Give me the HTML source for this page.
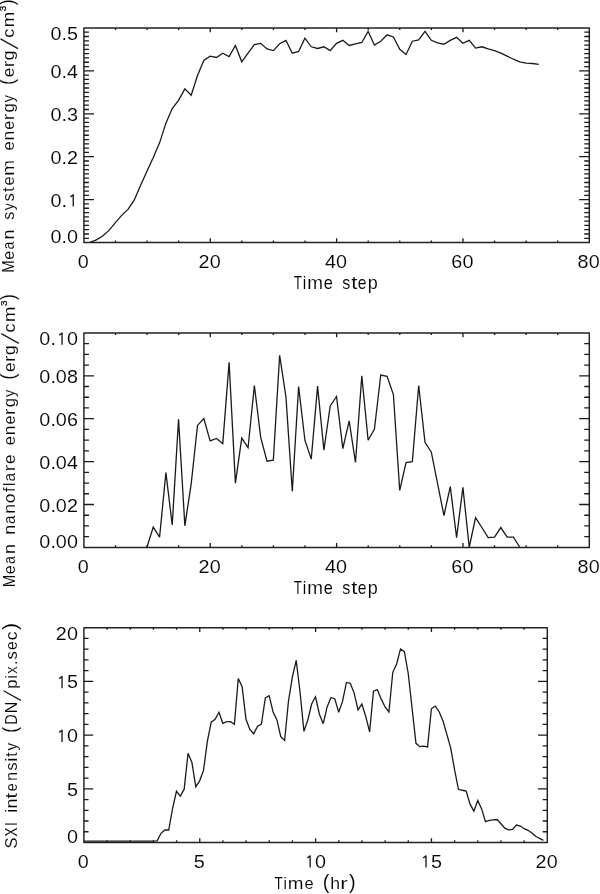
<!DOCTYPE html>
<html><head><meta charset="utf-8"><style>
html,body{margin:0;padding:0;background:#fff;}
body{width:600px;height:894px;overflow:hidden;}
svg{display:block;}
text{font-family:"Liberation Sans",sans-serif;white-space:pre;stroke:#fff;stroke-width:0.006px;paint-order:normal;}
svg{will-change:transform;}
</style></head><body>
<svg width="600" height="894" viewBox="0 0 600 894">
<rect width="600" height="894" fill="#fff"/>
<g font-family="Liberation Sans, sans-serif" fill="#000">
<rect x="83.9" y="27.9" width="505.40" height="214.70" stroke="#222" stroke-width="1.45" fill="none" stroke-linejoin="round"/>
<path d="M115.49 242.60v-2.15M115.49 27.90v2.15M147.07 242.60v-2.15M147.07 27.90v2.15M178.66 242.60v-2.15M178.66 27.90v2.15M210.25 242.60v-4.29M210.25 27.90v4.29M241.84 242.60v-2.15M241.84 27.90v2.15M273.42 242.60v-2.15M273.42 27.90v2.15M305.01 242.60v-2.15M305.01 27.90v2.15M336.60 242.60v-4.29M336.60 27.90v4.29M368.19 242.60v-2.15M368.19 27.90v2.15M399.77 242.60v-2.15M399.77 27.90v2.15M431.36 242.60v-2.15M431.36 27.90v2.15M462.95 242.60v-4.29M462.95 27.90v4.29M494.54 242.60v-2.15M494.54 27.90v2.15M526.12 242.60v-2.15M526.12 27.90v2.15M557.71 242.60v-2.15M557.71 27.90v2.15M83.90 238.31h5.05M589.30 238.31h-5.05M83.90 234.01h5.05M589.30 234.01h-5.05M83.90 229.72h5.05M589.30 229.72h-5.05M83.90 225.42h5.05M589.30 225.42h-5.05M83.90 221.13h5.05M589.30 221.13h-5.05M83.90 216.84h5.05M589.30 216.84h-5.05M83.90 212.54h5.05M589.30 212.54h-5.05M83.90 208.25h5.05M589.30 208.25h-5.05M83.90 203.95h5.05M589.30 203.95h-5.05M83.90 199.66h10.11M589.30 199.66h-10.11M83.90 195.37h5.05M589.30 195.37h-5.05M83.90 191.07h5.05M589.30 191.07h-5.05M83.90 186.78h5.05M589.30 186.78h-5.05M83.90 182.48h5.05M589.30 182.48h-5.05M83.90 178.19h5.05M589.30 178.19h-5.05M83.90 173.90h5.05M589.30 173.90h-5.05M83.90 169.60h5.05M589.30 169.60h-5.05M83.90 165.31h5.05M589.30 165.31h-5.05M83.90 161.01h5.05M589.30 161.01h-5.05M83.90 156.72h10.11M589.30 156.72h-10.11M83.90 152.43h5.05M589.30 152.43h-5.05M83.90 148.13h5.05M589.30 148.13h-5.05M83.90 143.84h5.05M589.30 143.84h-5.05M83.90 139.54h5.05M589.30 139.54h-5.05M83.90 135.25h5.05M589.30 135.25h-5.05M83.90 130.96h5.05M589.30 130.96h-5.05M83.90 126.66h5.05M589.30 126.66h-5.05M83.90 122.37h5.05M589.30 122.37h-5.05M83.90 118.07h5.05M589.30 118.07h-5.05M83.90 113.78h10.11M589.30 113.78h-10.11M83.90 109.49h5.05M589.30 109.49h-5.05M83.90 105.19h5.05M589.30 105.19h-5.05M83.90 100.90h5.05M589.30 100.90h-5.05M83.90 96.60h5.05M589.30 96.60h-5.05M83.90 92.31h5.05M589.30 92.31h-5.05M83.90 88.02h5.05M589.30 88.02h-5.05M83.90 83.72h5.05M589.30 83.72h-5.05M83.90 79.43h5.05M589.30 79.43h-5.05M83.90 75.13h5.05M589.30 75.13h-5.05M83.90 70.84h10.11M589.30 70.84h-10.11M83.90 66.55h5.05M589.30 66.55h-5.05M83.90 62.25h5.05M589.30 62.25h-5.05M83.90 57.96h5.05M589.30 57.96h-5.05M83.90 53.66h5.05M589.30 53.66h-5.05M83.90 49.37h5.05M589.30 49.37h-5.05M83.90 45.08h5.05M589.30 45.08h-5.05M83.90 40.78h5.05M589.30 40.78h-5.05M83.90 36.49h5.05M589.30 36.49h-5.05M83.90 32.19h5.05M589.30 32.19h-5.05" stroke="#1a1a1a" stroke-width="1.3" fill="none"/>
<rect x="83.9" y="332.9" width="505.40" height="214.50" stroke="#222" stroke-width="1.45" fill="none" stroke-linejoin="round"/>
<path d="M115.49 547.40v-2.15M115.49 332.90v2.15M147.07 547.40v-2.15M147.07 332.90v2.15M178.66 547.40v-2.15M178.66 332.90v2.15M210.25 547.40v-4.29M210.25 332.90v4.29M241.84 547.40v-2.15M241.84 332.90v2.15M273.42 547.40v-2.15M273.42 332.90v2.15M305.01 547.40v-2.15M305.01 332.90v2.15M336.60 547.40v-4.29M336.60 332.90v4.29M368.19 547.40v-2.15M368.19 332.90v2.15M399.77 547.40v-2.15M399.77 332.90v2.15M431.36 547.40v-2.15M431.36 332.90v2.15M462.95 547.40v-4.29M462.95 332.90v4.29M494.54 547.40v-2.15M494.54 332.90v2.15M526.12 547.40v-2.15M526.12 332.90v2.15M557.71 547.40v-2.15M557.71 332.90v2.15M83.90 536.67h5.05M589.30 536.67h-5.05M83.90 525.95h5.05M589.30 525.95h-5.05M83.90 515.23h5.05M589.30 515.23h-5.05M83.90 504.50h10.11M589.30 504.50h-10.11M83.90 493.77h5.05M589.30 493.77h-5.05M83.90 483.05h5.05M589.30 483.05h-5.05M83.90 472.32h5.05M589.30 472.32h-5.05M83.90 461.60h10.11M589.30 461.60h-10.11M83.90 450.88h5.05M589.30 450.88h-5.05M83.90 440.15h5.05M589.30 440.15h-5.05M83.90 429.43h5.05M589.30 429.43h-5.05M83.90 418.70h10.11M589.30 418.70h-10.11M83.90 407.97h5.05M589.30 407.97h-5.05M83.90 397.25h5.05M589.30 397.25h-5.05M83.90 386.52h5.05M589.30 386.52h-5.05M83.90 375.80h10.11M589.30 375.80h-10.11M83.90 365.07h5.05M589.30 365.07h-5.05M83.90 354.35h5.05M589.30 354.35h-5.05M83.90 343.62h5.05M589.30 343.62h-5.05" stroke="#1a1a1a" stroke-width="1.3" fill="none"/>
<rect x="83.9" y="627.7" width="463.40" height="214.80" stroke="#222" stroke-width="1.45" fill="none" stroke-linejoin="round"/>
<path d="M107.07 842.50v-2.15M107.07 627.70v2.15M130.24 842.50v-2.15M130.24 627.70v2.15M153.41 842.50v-2.15M153.41 627.70v2.15M176.58 842.50v-2.15M176.58 627.70v2.15M199.75 842.50v-4.30M199.75 627.70v4.30M222.92 842.50v-2.15M222.92 627.70v2.15M246.09 842.50v-2.15M246.09 627.70v2.15M269.26 842.50v-2.15M269.26 627.70v2.15M292.43 842.50v-2.15M292.43 627.70v2.15M315.60 842.50v-4.30M315.60 627.70v4.30M338.77 842.50v-2.15M338.77 627.70v2.15M361.94 842.50v-2.15M361.94 627.70v2.15M385.11 842.50v-2.15M385.11 627.70v2.15M408.28 842.50v-2.15M408.28 627.70v2.15M431.45 842.50v-4.30M431.45 627.70v4.30M454.62 842.50v-2.15M454.62 627.70v2.15M477.79 842.50v-2.15M477.79 627.70v2.15M500.96 842.50v-2.15M500.96 627.70v2.15M524.13 842.50v-2.15M524.13 627.70v2.15M83.90 831.76h4.63M547.30 831.76h-4.63M83.90 821.02h4.63M547.30 821.02h-4.63M83.90 810.28h4.63M547.30 810.28h-4.63M83.90 799.54h4.63M547.30 799.54h-4.63M83.90 788.80h9.27M547.30 788.80h-9.27M83.90 778.06h4.63M547.30 778.06h-4.63M83.90 767.32h4.63M547.30 767.32h-4.63M83.90 756.58h4.63M547.30 756.58h-4.63M83.90 745.84h4.63M547.30 745.84h-4.63M83.90 735.10h9.27M547.30 735.10h-9.27M83.90 724.36h4.63M547.30 724.36h-4.63M83.90 713.62h4.63M547.30 713.62h-4.63M83.90 702.88h4.63M547.30 702.88h-4.63M83.90 692.14h4.63M547.30 692.14h-4.63M83.90 681.40h9.27M547.30 681.40h-9.27M83.90 670.66h4.63M547.30 670.66h-4.63M83.90 659.92h4.63M547.30 659.92h-4.63M83.90 649.18h4.63M547.30 649.18h-4.63M83.90 638.44h4.63M547.30 638.44h-4.63" stroke="#1a1a1a" stroke-width="1.3" fill="none"/>
<polyline points="90.07,242.40 96.39,239.83 102.71,235.97 109.03,230.39 115.35,222.67 121.67,215.37 127.99,209.37 134.31,199.93 140.62,185.34 146.94,171.19 153.26,157.46 159.58,142.87 165.90,123.14 172.22,108.55 178.54,100.40 184.86,88.82 191.18,95.25 197.50,75.52 203.82,60.50 210.14,56.21 216.46,57.50 222.78,53.21 229.10,56.64 235.41,45.49 241.73,61.79 248.05,53.21 254.37,44.63 260.69,43.34 267.01,48.92 273.33,50.64 279.65,43.77 285.97,40.34 292.29,53.21 298.61,51.50 304.93,38.20 311.25,46.78 317.57,48.49 323.89,46.78 330.21,50.64 336.52,43.34 342.84,40.34 349.16,45.49 355.48,43.77 361.80,42.49 368.12,31.33 374.44,45.06 380.76,41.20 387.08,34.76 393.40,36.91 399.72,49.35 406.04,54.50 412.36,41.20 418.68,39.91 425.00,31.33 431.32,40.34 437.63,42.91 443.95,44.20 450.27,40.34 456.59,37.34 462.91,43.34 469.23,40.34 475.55,48.06 481.87,46.78 488.19,48.92 494.51,50.64 500.83,53.21 507.15,56.21 513.47,59.22 519.79,61.79 526.11,63.08 532.43,63.51 538.74,64.37" stroke="#1a1a1a" stroke-width="1.3" fill="none" stroke-linejoin="miter" stroke-miterlimit="3"/>
<polyline points="146.94,547.25 153.26,527.09 159.58,537.17 165.90,472.60 172.22,524.94 178.54,419.41 184.86,525.80 191.18,483.97 197.50,425.41 203.82,418.55 210.14,440.86 216.46,438.50 222.78,443.65 229.10,362.35 235.41,483.11 241.73,438.07 248.05,447.72 254.37,385.52 260.69,437.43 267.01,461.24 273.33,460.16 279.65,355.27 285.97,397.10 292.29,491.27 298.61,386.59 304.93,440.21 311.25,459.09 317.57,386.16 323.89,450.08 330.21,405.89 336.52,396.46 342.84,448.58 349.16,420.91 355.48,462.52 361.80,375.86 368.12,440.21 374.44,429.06 380.76,375.01 387.08,376.29 393.40,394.53 399.72,490.41 406.04,462.52 412.36,461.66 418.68,385.52 425.00,442.36 431.32,452.23 437.63,483.97 443.95,515.50 450.27,486.55 456.59,537.60 462.91,487.40 469.23,547.25 475.55,517.65 481.87,527.52 488.19,537.60 494.51,537.17 500.83,527.52 507.15,537.17 513.47,537.17 519.79,547.25" stroke="#1a1a1a" stroke-width="1.3" fill="none" stroke-linejoin="miter" stroke-miterlimit="3"/>
<polyline points="83.75,841.14 87.61,841.14 91.48,841.14 95.34,841.14 99.20,841.14 103.06,841.14 106.93,841.14 110.79,841.14 114.65,841.14 118.52,841.14 122.38,841.14 126.24,841.14 130.10,841.14 133.97,841.14 137.83,841.14 141.69,841.14 145.56,841.14 149.42,841.14 153.28,841.14 157.15,840.82 161.01,833.32 164.87,830.00 168.73,830.00 172.60,808.26 176.46,791.33 180.32,796.15 184.19,789.19 188.05,753.30 191.91,762.51 195.77,786.72 199.64,780.83 203.50,770.44 207.36,741.30 211.23,722.23 215.09,719.34 218.95,712.27 222.81,723.31 226.68,721.70 230.54,721.70 234.40,724.38 238.27,678.53 242.13,686.78 245.99,719.34 249.86,729.52 253.72,733.80 257.58,726.30 261.44,724.16 265.31,697.92 269.17,695.67 273.03,711.74 276.90,719.88 280.76,736.70 284.62,740.45 288.48,701.13 292.35,677.13 296.21,660.42 300.07,692.24 303.94,731.34 307.80,719.98 311.66,704.02 315.52,696.74 319.39,714.20 323.25,723.63 327.11,706.92 330.98,697.49 334.84,698.88 338.70,712.27 342.57,701.13 346.43,682.49 350.29,683.35 354.15,693.10 358.02,709.81 361.88,704.02 365.74,716.45 369.61,731.88 373.47,691.17 377.33,689.67 381.19,698.88 385.06,706.92 388.92,711.95 392.78,672.31 396.65,663.96 400.51,648.96 404.37,651.64 408.23,673.49 412.10,708.42 415.96,743.34 419.82,746.66 423.69,746.12 427.55,746.87 431.41,708.74 435.28,706.06 439.14,711.74 443.00,720.95 446.86,734.34 450.73,748.05 454.59,769.80 458.45,789.29 462.32,790.26 466.18,791.01 470.04,804.18 473.90,811.15 477.77,800.44 481.63,808.90 485.49,821.65 489.36,820.36 493.22,819.83 497.08,819.50 500.94,823.79 504.81,828.18 508.67,829.79 512.53,829.47 516.40,825.07 520.26,826.04 524.12,828.72 527.99,830.32 531.85,833.00 535.71,836.32 539.57,838.46 543.44,840.29" stroke="#1a1a1a" stroke-width="1.3" fill="none" stroke-linejoin="miter" stroke-miterlimit="3"/>
<text transform="matrix(19.8 0 0 17.9 50.556 243.030)" font-size="1">0</text>
<text transform="matrix(19.8 0 0 17.9 61.578 243.030)" font-size="1">.</text>
<text transform="matrix(19.8 0 0 17.9 66.956 243.030)" font-size="1">0</text>
<text transform="matrix(19.8 0 0 17.9 50.556 206.740)" font-size="1">0</text>
<text transform="matrix(19.8 0 0 17.9 61.578 206.740)" font-size="1">.</text>
<path d="M73.25 206.51V194.76L70.40 196.91" stroke="#1a1a1a" stroke-width="1.35" fill="none" stroke-linejoin="round"/>
<text transform="matrix(19.8 0 0 17.9 50.556 163.800)" font-size="1">0</text>
<text transform="matrix(19.8 0 0 17.9 61.578 163.800)" font-size="1">.</text>
<text transform="matrix(19.8 0 0 17.9 67.005 163.800)" font-size="1">2</text>
<text transform="matrix(19.8 0 0 17.9 50.556 120.860)" font-size="1">0</text>
<text transform="matrix(19.8 0 0 17.9 61.578 120.860)" font-size="1">.</text>
<text transform="matrix(19.8 0 0 17.9 67.005 120.860)" font-size="1">3</text>
<text transform="matrix(19.8 0 0 17.9 50.556 77.920)" font-size="1">0</text>
<text transform="matrix(19.8 0 0 17.9 61.578 77.920)" font-size="1">.</text>
<text transform="matrix(19.8 0 0 17.9 67.105 77.920)" font-size="1">4</text>
<text transform="matrix(19.8 0 0 17.9 50.556 39.930)" font-size="1">0</text>
<text transform="matrix(19.8 0 0 17.9 61.578 39.930)" font-size="1">.</text>
<text transform="matrix(19.8 0 0 17.9 67.005 39.930)" font-size="1">5</text>
<text transform="matrix(19.8 0 0 17.9 39.356 547.830)" font-size="1">0</text>
<text transform="matrix(19.8 0 0 17.9 50.377 547.830)" font-size="1">.</text>
<text transform="matrix(19.8 0 0 17.9 55.756 547.830)" font-size="1">0</text>
<text transform="matrix(19.8 0 0 17.9 66.956 547.830)" font-size="1">0</text>
<text transform="matrix(19.8 0 0 17.9 39.356 511.580)" font-size="1">0</text>
<text transform="matrix(19.8 0 0 17.9 50.377 511.580)" font-size="1">.</text>
<text transform="matrix(19.8 0 0 17.9 55.756 511.580)" font-size="1">0</text>
<text transform="matrix(19.8 0 0 17.9 67.005 511.580)" font-size="1">2</text>
<text transform="matrix(19.8 0 0 17.9 39.356 468.680)" font-size="1">0</text>
<text transform="matrix(19.8 0 0 17.9 50.377 468.680)" font-size="1">.</text>
<text transform="matrix(19.8 0 0 17.9 55.756 468.680)" font-size="1">0</text>
<text transform="matrix(19.8 0 0 17.9 67.105 468.680)" font-size="1">4</text>
<text transform="matrix(19.8 0 0 17.9 39.356 425.780)" font-size="1">0</text>
<text transform="matrix(19.8 0 0 17.9 50.377 425.780)" font-size="1">.</text>
<text transform="matrix(19.8 0 0 17.9 55.756 425.780)" font-size="1">0</text>
<text transform="matrix(19.8 0 0 17.9 66.906 425.780)" font-size="1">6</text>
<text transform="matrix(19.8 0 0 17.9 39.356 382.880)" font-size="1">0</text>
<text transform="matrix(19.8 0 0 17.9 50.377 382.880)" font-size="1">.</text>
<text transform="matrix(19.8 0 0 17.9 55.756 382.880)" font-size="1">0</text>
<text transform="matrix(19.8 0 0 17.9 66.956 382.880)" font-size="1">8</text>
<text transform="matrix(19.8 0 0 17.9 39.356 344.930)" font-size="1">0</text>
<text transform="matrix(19.8 0 0 17.9 50.377 344.930)" font-size="1">.</text>
<path d="M62.05 344.70V332.95L59.20 335.10" stroke="#1a1a1a" stroke-width="1.35" fill="none" stroke-linejoin="round"/>
<text transform="matrix(19.8 0 0 17.9 66.956 344.930)" font-size="1">0</text>
<text transform="matrix(19.8 0 0 17.9 66.956 842.930)" font-size="1">0</text>
<text transform="matrix(19.8 0 0 17.9 67.005 795.880)" font-size="1">5</text>
<path d="M62.05 741.95V730.20L59.20 732.35" stroke="#1a1a1a" stroke-width="1.35" fill="none" stroke-linejoin="round"/>
<text transform="matrix(19.8 0 0 17.9 66.956 742.180)" font-size="1">0</text>
<path d="M62.05 688.25V676.50L59.20 678.65" stroke="#1a1a1a" stroke-width="1.35" fill="none" stroke-linejoin="round"/>
<text transform="matrix(19.8 0 0 17.9 67.005 688.480)" font-size="1">5</text>
<text transform="matrix(19.8 0 0 17.9 55.805 639.730)" font-size="1">2</text>
<text transform="matrix(19.8 0 0 17.9 66.956 639.730)" font-size="1">0</text>
<text transform="matrix(19.8 0 0 17.9 77.756 267.930)" font-size="1">0</text>
<text transform="matrix(19.8 0 0 17.9 198.556 267.930)" font-size="1">2</text>
<text transform="matrix(19.8 0 0 17.9 209.706 267.930)" font-size="1">0</text>
<text transform="matrix(19.8 0 0 17.9 325.005 267.930)" font-size="1">4</text>
<text transform="matrix(19.8 0 0 17.9 336.056 267.930)" font-size="1">0</text>
<text transform="matrix(19.8 0 0 17.9 451.156 267.930)" font-size="1">6</text>
<text transform="matrix(19.8 0 0 17.9 462.406 267.930)" font-size="1">0</text>
<text transform="matrix(19.8 0 0 17.9 577.556 267.930)" font-size="1">8</text>
<text transform="matrix(19.8 0 0 17.9 588.756 267.930)" font-size="1">0</text>
<text transform="matrix(19.8 0 0 17.9 77.756 572.780)" font-size="1">0</text>
<text transform="matrix(19.8 0 0 17.9 198.556 572.780)" font-size="1">2</text>
<text transform="matrix(19.8 0 0 17.9 209.706 572.780)" font-size="1">0</text>
<text transform="matrix(19.8 0 0 17.9 325.005 572.780)" font-size="1">4</text>
<text transform="matrix(19.8 0 0 17.9 336.056 572.780)" font-size="1">0</text>
<text transform="matrix(19.8 0 0 17.9 451.156 572.780)" font-size="1">6</text>
<text transform="matrix(19.8 0 0 17.9 462.406 572.780)" font-size="1">0</text>
<text transform="matrix(19.8 0 0 17.9 577.556 572.780)" font-size="1">8</text>
<text transform="matrix(19.8 0 0 17.9 588.756 572.780)" font-size="1">0</text>
<text transform="matrix(19.8 0 0 17.9 77.756 867.830)" font-size="1">0</text>
<text transform="matrix(19.8 0 0 17.9 193.656 867.830)" font-size="1">5</text>
<path d="M310.15 867.60V855.85L307.30 858.00" stroke="#1a1a1a" stroke-width="1.35" fill="none" stroke-linejoin="round"/>
<text transform="matrix(19.8 0 0 17.9 315.056 867.830)" font-size="1">0</text>
<path d="M426.00 867.60V855.85L423.15 858.00" stroke="#1a1a1a" stroke-width="1.35" fill="none" stroke-linejoin="round"/>
<text transform="matrix(19.8 0 0 17.9 430.955 867.830)" font-size="1">5</text>
<text transform="matrix(19.8 0 0 17.9 535.605 867.830)" font-size="1">2</text>
<text transform="matrix(19.8 0 0 17.9 546.756 867.830)" font-size="1">0</text>
<text transform="matrix(13.5088 0 0 17.6812 293.780 289.100)" font-size="1">T</text>
<text transform="matrix(15.5556 0 0 17.6812 302.789 289.100)" font-size="1">i</text>
<text transform="matrix(18.8652 0 0 17.6812 307.174 289.100)" font-size="1">m</text>
<text transform="matrix(16.3830 0 0 17.6812 323.845 289.100)" font-size="1">e</text>
<text transform="matrix(16.0920 0 0 17.6812 342.317 289.100)" font-size="1">s</text>
<text transform="matrix(21.9608 0 0 17.6812 351.171 289.100)" font-size="1">t</text>
<text transform="matrix(15.7447 0 0 17.6812 357.870 289.100)" font-size="1">e</text>
<text transform="matrix(18.0000 0 0 17.6812 367.830 289.100)" font-size="1">p</text>
<text transform="matrix(13.5088 0 0 17.6812 293.780 593.950)" font-size="1">T</text>
<text transform="matrix(15.5556 0 0 17.6812 302.789 593.950)" font-size="1">i</text>
<text transform="matrix(18.8652 0 0 17.6812 307.174 593.950)" font-size="1">m</text>
<text transform="matrix(16.3830 0 0 17.6812 323.845 593.950)" font-size="1">e</text>
<text transform="matrix(16.0920 0 0 17.6812 342.317 593.950)" font-size="1">s</text>
<text transform="matrix(21.9608 0 0 17.6812 351.171 593.950)" font-size="1">t</text>
<text transform="matrix(15.7447 0 0 17.6812 357.870 593.950)" font-size="1">e</text>
<text transform="matrix(18.0000 0 0 17.6812 367.830 593.950)" font-size="1">p</text>
<text transform="matrix(13.5088 0 0 17.3913 274.480 888.800)" font-size="1">T</text>
<text transform="matrix(15.5556 0 0 17.3913 283.489 888.800)" font-size="1">i</text>
<text transform="matrix(18.8652 0 0 17.3913 287.874 888.800)" font-size="1">m</text>
<text transform="matrix(16.3830 0 0 17.3913 304.545 888.800)" font-size="1">e</text>
<text transform="matrix(20.0000 0 0 20.0000 322.700 889.200)" font-size="1">(</text>
<text transform="matrix(17.6190 0 0 17.3913 330.367 888.800)" font-size="1">h</text>
<text transform="matrix(22.4000 0 0 17.3913 340.344 888.800)" font-size="1">r</text>
<text transform="matrix(20.0000 0 0 20.0000 349.000 889.200)" font-size="1">)</text>
<text transform="matrix(0 -14.9254 16.9565 0 14.000 272.694)" font-size="1">M</text>
<text transform="matrix(0 -16.1702 16.9565 0 14.000 259.647)" font-size="1">e</text>
<text transform="matrix(0 -14.1748 16.9565 0 14.000 249.467)" font-size="1">a</text>
<text transform="matrix(0 -17.8824 16.9565 0 14.000 239.462)" font-size="1">n</text>
<text transform="matrix(0 -16.0920 16.9565 0 14.000 219.683)" font-size="1">s</text>
<text transform="matrix(0 -14.5455 16.9565 0 14.000 210.273)" font-size="1">y</text>
<text transform="matrix(0 -16.0920 16.9565 0 14.000 201.183)" font-size="1">s</text>
<text transform="matrix(0 -17.6471 16.9565 0 14.000 192.065)" font-size="1">t</text>
<text transform="matrix(0 -16.3830 16.9565 0 14.000 185.455)" font-size="1">e</text>
<text transform="matrix(0 -19.0071 16.9565 0 14.000 175.635)" font-size="1">m</text>
<text transform="matrix(0 -16.5957 16.9565 0 14.000 150.614)" font-size="1">e</text>
<text transform="matrix(0 -17.1765 16.9565 0 14.000 140.466)" font-size="1">n</text>
<text transform="matrix(0 -16.1702 16.9565 0 14.000 129.697)" font-size="1">e</text>
<text transform="matrix(0 -19.2000 16.9565 0 14.000 120.198)" font-size="1">r</text>
<text transform="matrix(0 -16.6667 16.9565 0 14.000 112.617)" font-size="1">g</text>
<text transform="matrix(0 -14.7475 16.9565 0 14.000 102.324)" font-size="1">y</text>
<text transform="matrix(0 -18.8679 19.7861 0 14.345 84.882)" font-size="1">(</text>
<text transform="matrix(0 -17.2340 16.9565 0 14.000 77.139)" font-size="1">e</text>
<text transform="matrix(0 -18.0000 16.9565 0 14.000 67.020)" font-size="1">r</text>
<text transform="matrix(0 -17.3333 16.9565 0 14.000 60.143)" font-size="1">g</text>
<path d="M18.00 48.65L0.50 38.85" stroke="#1a1a1a" stroke-width="1.25" fill="none"/>
<text transform="matrix(0 -17.9310 16.9565 0 14.000 37.767)" font-size="1">c</text>
<text transform="matrix(0 -18.5816 16.9565 0 14.000 27.258)" font-size="1">m</text>
<text transform="matrix(0 -9.8947 8.7324 0 6.113 11.346)" font-size="1" style="stroke:#1a1a1a;stroke-width:0.03px">3</text>
<text transform="matrix(0 -18.1132 19.7861 0 14.345 5.141)" font-size="1">)</text>
<text transform="matrix(0 -14.9254 16.9565 0 14.800 587.294)" font-size="1">M</text>
<text transform="matrix(0 -16.1702 16.9565 0 14.800 574.247)" font-size="1">e</text>
<text transform="matrix(0 -14.1748 16.9565 0 14.800 564.067)" font-size="1">a</text>
<text transform="matrix(0 -17.8824 16.9565 0 14.800 554.062)" font-size="1">n</text>
<text transform="matrix(0 -17.8824 16.9565 0 14.800 534.762)" font-size="1">n</text>
<text transform="matrix(0 -15.1456 16.9565 0 14.800 524.106)" font-size="1">a</text>
<text transform="matrix(0 -17.6471 16.9565 0 14.800 513.747)" font-size="1">n</text>
<text transform="matrix(0 -17.4737 16.9565 0 14.800 503.199)" font-size="1">o</text>
<text transform="matrix(0 -15.8491 16.9565 0 14.800 491.938)" font-size="1">f</text>
<text transform="matrix(0 -15.5556 16.9565 0 14.800 486.011)" font-size="1">l</text>
<text transform="matrix(0 -15.3398 16.9565 0 14.800 481.414)" font-size="1">a</text>
<text transform="matrix(0 -19.2000 16.9565 0 14.800 471.148)" font-size="1">r</text>
<text transform="matrix(0 -17.2340 16.9565 0 14.800 464.089)" font-size="1">e</text>
<text transform="matrix(0 -16.5957 16.9565 0 14.800 445.364)" font-size="1">e</text>
<text transform="matrix(0 -17.1765 16.9565 0 14.800 435.216)" font-size="1">n</text>
<text transform="matrix(0 -16.1702 16.9565 0 14.800 424.447)" font-size="1">e</text>
<text transform="matrix(0 -19.2000 16.9565 0 14.800 414.948)" font-size="1">r</text>
<text transform="matrix(0 -16.6667 16.9565 0 14.800 407.367)" font-size="1">g</text>
<text transform="matrix(0 -14.7475 16.9565 0 14.800 397.074)" font-size="1">y</text>
<text transform="matrix(0 -18.8679 19.7861 0 15.145 379.632)" font-size="1">(</text>
<text transform="matrix(0 -17.2340 16.9565 0 14.800 371.889)" font-size="1">e</text>
<text transform="matrix(0 -18.0000 16.9565 0 14.800 361.770)" font-size="1">r</text>
<text transform="matrix(0 -17.3333 16.9565 0 14.800 354.893)" font-size="1">g</text>
<path d="M18.80 343.40L1.30 333.60" stroke="#1a1a1a" stroke-width="1.25" fill="none"/>
<text transform="matrix(0 -17.9310 16.9565 0 14.800 332.517)" font-size="1">c</text>
<text transform="matrix(0 -18.5816 16.9565 0 14.800 322.008)" font-size="1">m</text>
<text transform="matrix(0 -9.8947 8.7324 0 6.913 306.096)" font-size="1" style="stroke:#1a1a1a;stroke-width:0.03px">3</text>
<text transform="matrix(0 -18.1132 19.7861 0 15.145 299.891)" font-size="1">)</text>
<text transform="matrix(0 -16.5217 17.1014 0 16.800 848.543)" font-size="1">S</text>
<text transform="matrix(0 -13.5484 17.1014 0 16.800 836.439)" font-size="1">X</text>
<text transform="matrix(0 -14.7368 17.1014 0 16.800 826.226)" font-size="1">I</text>
<text transform="matrix(0 -17.7778 17.1014 0 16.800 812.856)" font-size="1">i</text>
<text transform="matrix(0 -17.8824 17.1014 0 16.800 808.462)" font-size="1">n</text>
<text transform="matrix(0 -20.0000 17.1014 0 16.800 798.400)" font-size="1">t</text>
<text transform="matrix(0 -14.2553 17.1014 0 16.800 791.370)" font-size="1">e</text>
<text transform="matrix(0 -16.4706 17.1014 0 16.800 780.971)" font-size="1">n</text>
<text transform="matrix(0 -16.0920 17.1014 0 16.800 770.583)" font-size="1">s</text>
<text transform="matrix(0 -18.8889 17.1014 0 16.800 761.828)" font-size="1">i</text>
<text transform="matrix(0 -15.2941 17.1014 0 16.800 756.629)" font-size="1">t</text>
<text transform="matrix(0 -15.3535 17.1014 0 16.800 750.377)" font-size="1">y</text>
<text transform="matrix(0 -18.8679 20.0000 0 17.300 732.932)" font-size="1">(</text>
<text transform="matrix(0 -14.6218 17.1014 0 16.800 724.870)" font-size="1">D</text>
<text transform="matrix(0 -16.0714 17.1014 0 16.800 713.286)" font-size="1">N</text>
<path d="M20.80 700.40L3.60 690.80" stroke="#1a1a1a" stroke-width="1.25" fill="none"/>
<text transform="matrix(0 -17.3333 17.1014 0 16.800 689.027)" font-size="1">p</text>
<text transform="matrix(0 -15.5556 17.1014 0 16.800 678.611)" font-size="1">i</text>
<text transform="matrix(0 -14.5833 17.1014 0 16.800 673.846)" font-size="1">x</text>
<text transform="matrix(0 -17.8947 17.1014 0 16.800 665.211)" font-size="1">.</text>
<text transform="matrix(0 -16.7816 17.1014 0 16.800 659.403)" font-size="1">s</text>
<text transform="matrix(0 -15.5319 17.1014 0 16.800 650.021)" font-size="1">e</text>
<text transform="matrix(0 -17.4713 17.1014 0 16.800 640.299)" font-size="1">c</text>
<text transform="matrix(0 -21.1321 20.0000 0 17.300 629.906)" font-size="1">)</text>
</g></svg>
</body></html>
